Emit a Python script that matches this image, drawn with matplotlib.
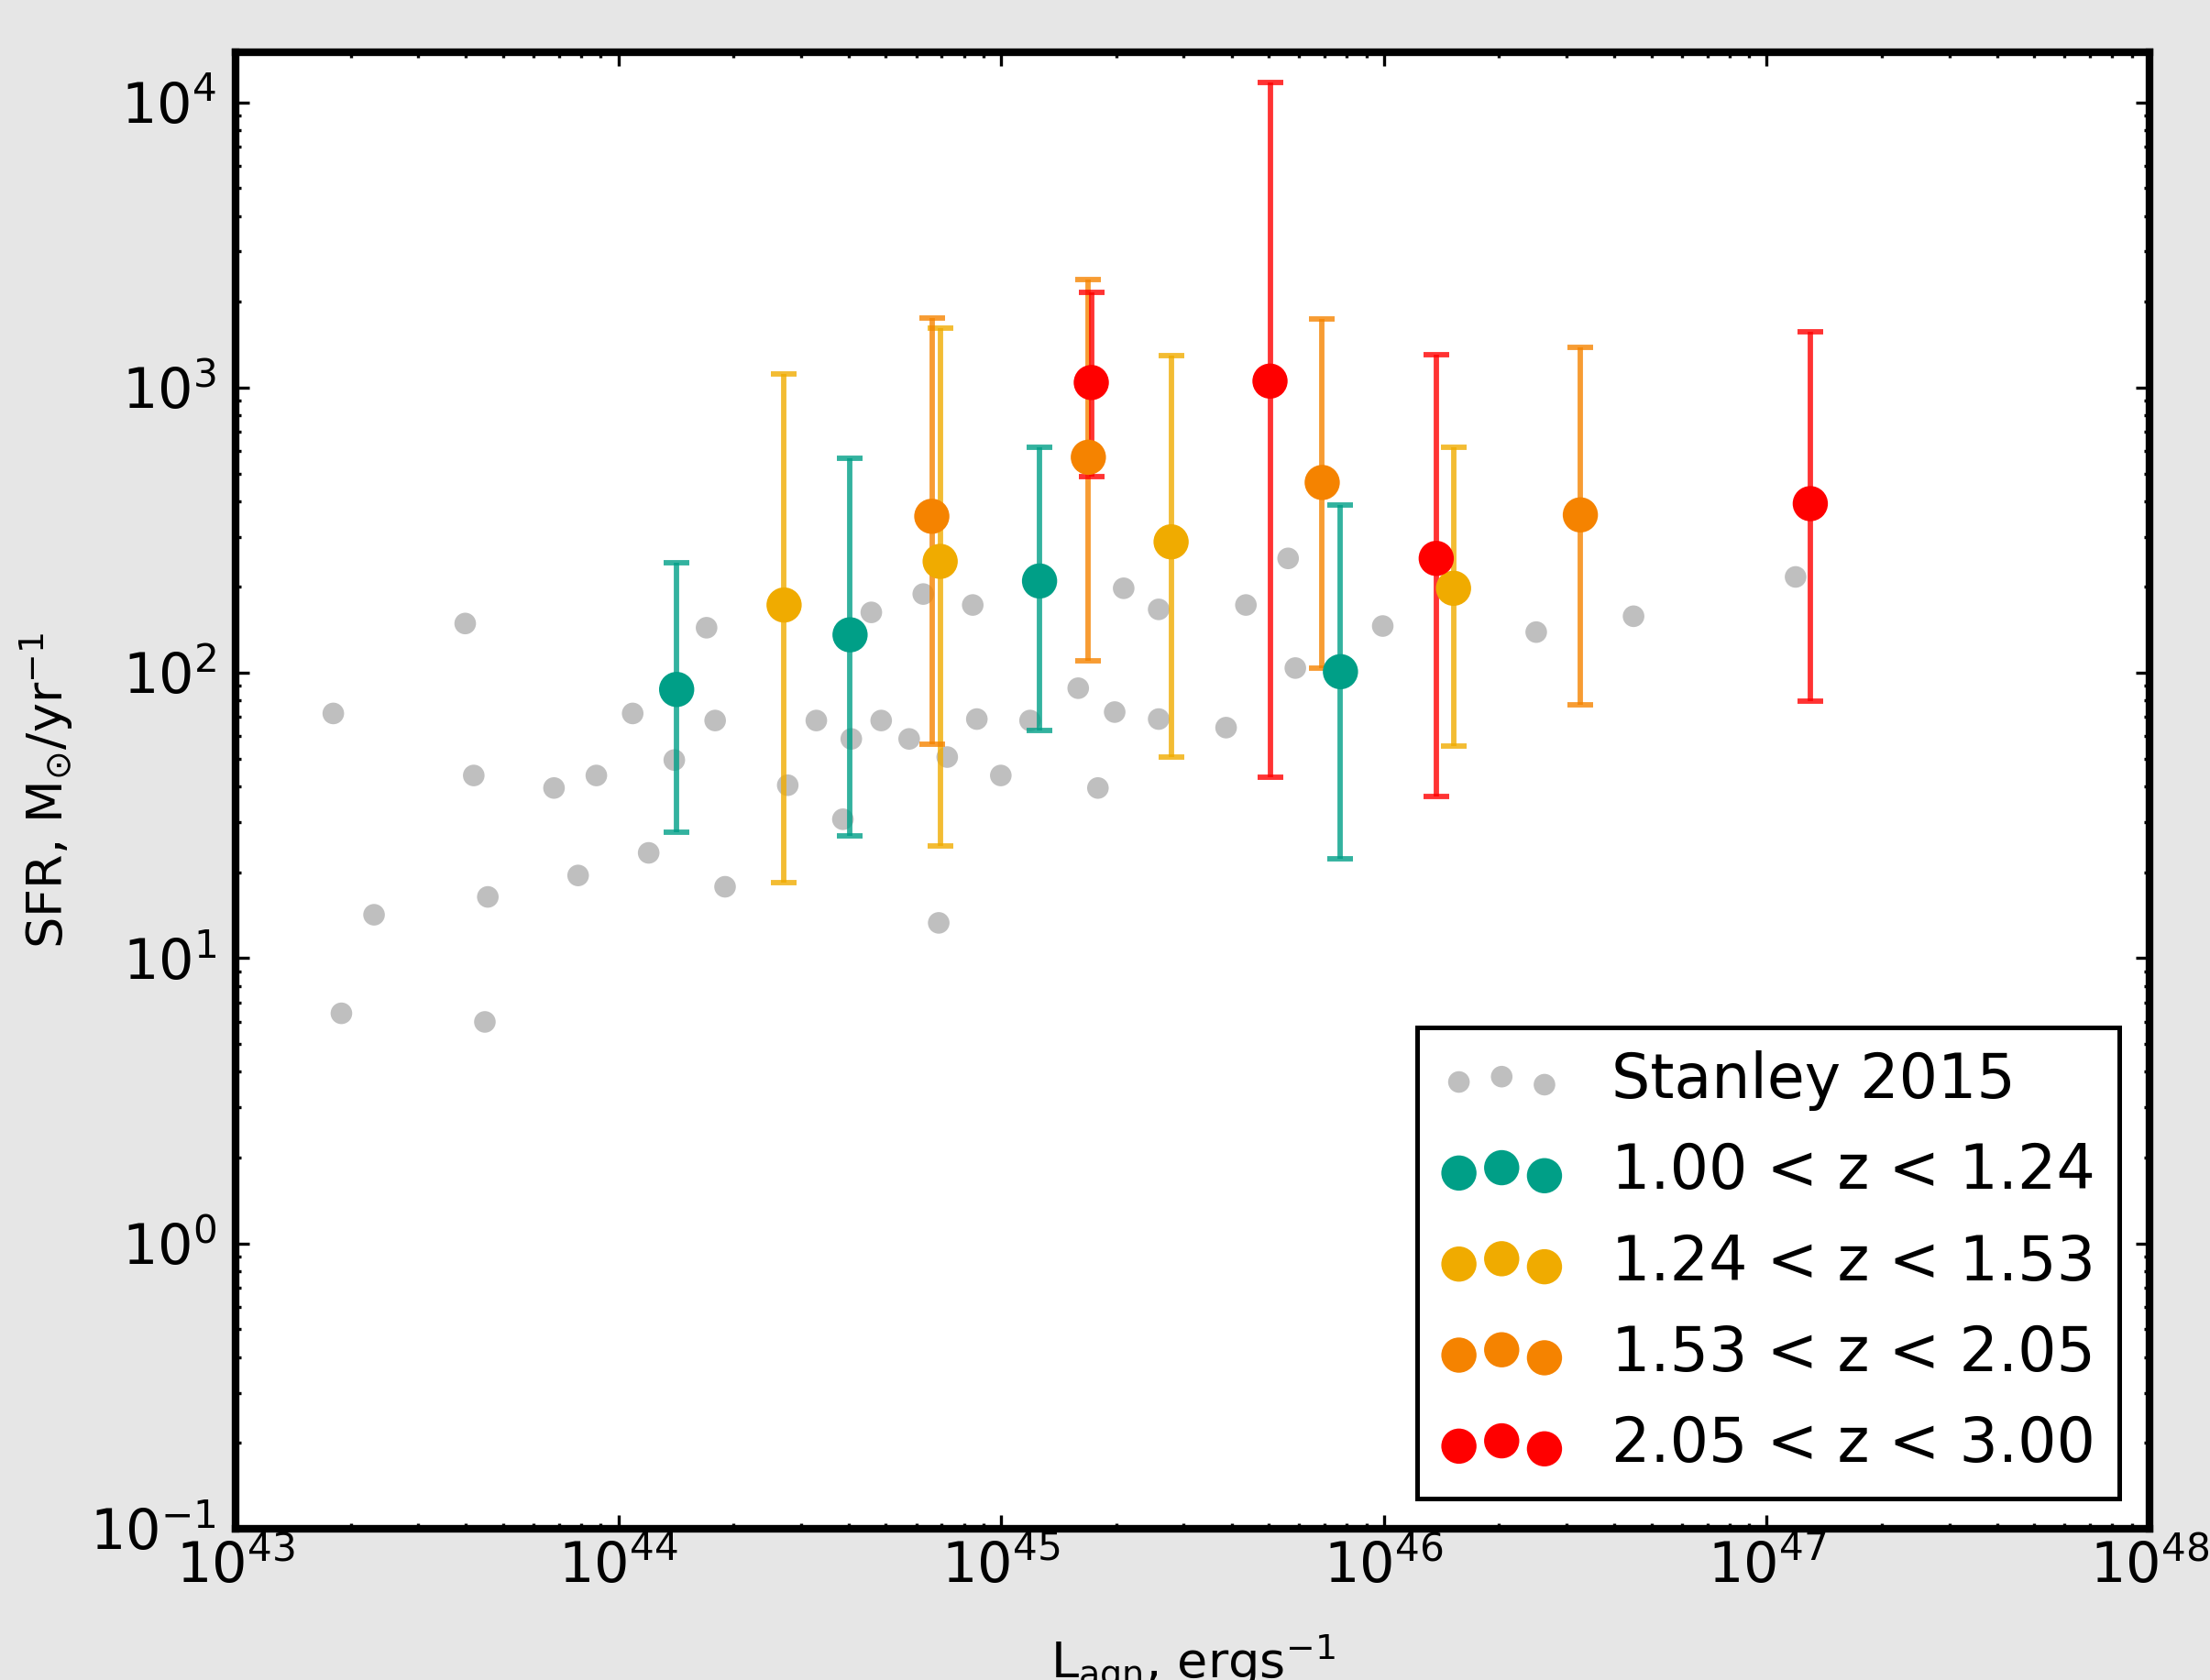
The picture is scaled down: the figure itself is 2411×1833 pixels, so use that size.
import matplotlib
matplotlib.use("Agg")
import matplotlib.pyplot as plt
import numpy as np

# Stanley 2015 comparison sample
stanley_lagn = [1.80e43, 1.89e43, 2.30e43, 3.98e43, 4.19e43, 4.56e43, 4.48e43,
                6.79e43, 7.85e43, 8.76e43, 1.09e44, 1.20e44, 1.40e44, 1.70e44,
                1.79e44, 1.90e44, 2.77e44, 3.29e44, 3.86e44, 4.06e44, 4.58e44,
                4.86e44, 5.75e44, 6.26e44, 6.87e44, 7.23e44, 8.43e44, 8.64e44,
                9.98e44, 1.19e45, 1.59e45, 1.79e45, 1.98e45, 2.09e45, 2.58e45,
                2.58e45, 3.87e45, 4.36e45, 5.62e45, 5.87e45, 9.93e45, 2.50e46,
                4.49e46, 1.19e47]
stanley_sfr = [72.1, 6.41, 14.2, 149, 43.7, 16.4, 5.98,
               39.5, 19.5, 43.7, 72.1, 23.4, 49.5, 144,
               68.1, 17.8, 40.4, 68.1, 30.7, 58.7, 163,
               68.1, 58.7, 189, 13.3, 50.7, 173, 68.9,
               43.7, 68.1, 88.4, 39.5, 72.9, 198, 167,
               68.9, 64.3, 173, 252, 104, 146, 139,
               158, 217]

# redshift bins
labels = ["1.00 < z < 1.24", "1.24 < z < 1.53", "1.53 < z < 2.05", "2.05 < z < 3.00"]
colors = ["#009f87", "#f0ab00", "#f58300", "#ff0000"]

lagn = [
    [1.42e44, 4.03e44, 1.26e45, 7.70e45],
    [2.71e44, 6.93e44, 2.78e45, 1.52e46],
    [6.59e44, 1.69e45, 6.90e45, 3.26e46],
    [1.72e45, 5.04e45, 1.37e46, 1.30e47],
]
sfr = [
    [87.5, 136, 210, 101],
    [173, 246, 288, 198],
    [354, 570, 465, 358],
    [1042, 1054, 252, 392],
]
sfr_lo = [
    [27.7, 26.8, 62.9, 22.3],
    [18.4, 24.8, 50.7, 55.5],
    [56.1, 110, 104, 77.2],
    [487, 43.2, 36.9, 79.8],
]
sfr_hi = [
    [243, 564, 618, 387],
    [1115, 1622, 1293, 618],
    [1758, 2389, 1738, 1385],
    [2157, 11730, 1307, 1568],
]

fig = plt.figure(figsize=(2411 / 300, 1833 / 300), dpi=300, facecolor="#e6e6e6")
ax = fig.add_axes([0.1066, 0.090, 0.866, 0.879])

ax.scatter(stanley_lagn, stanley_sfr, s=32, color="#bfbfbf", edgecolor="none",
           label="Stanley 2015", zorder=1)

for i in range(len(labels)):
    y = np.array(sfr[i])
    yerr = [y - np.array(sfr_lo[i]), np.array(sfr_hi[i]) - y]
    ax.errorbar(lagn[i], y, yerr=yerr, fmt="none", ecolor=colors[i], alpha=0.8,
                elinewidth=1.4, capsize=3.4, capthick=1.4, zorder=2)
    ax.scatter(lagn[i], y, s=85, color=colors[i], edgecolor="none",
               label=labels[i], zorder=3)

ax.set_xscale("log")
ax.set_yscale("log")
ax.set_xlim(1e43, 1e48)
ax.set_ylim(0.1, 1.5e4)

for s in ax.spines.values():
    s.set_linewidth(2)
ax.tick_params(which="both", direction="in", top=True, right=True, width=0.8)
ax.tick_params(which="major", length=3.6, labelsize=14.5)
ax.tick_params(which="minor", length=1.5)
ax.tick_params(axis="x", pad=3)
ax.tick_params(axis="y", pad=5)

ax.set_xlabel(r"L$_{\mathrm{agn}}$, ergs$^{-1}$", fontsize=13, labelpad=10)
ax.set_ylabel(r"SFR, M$_{\odot}$/yr$^{-1}$", fontsize=13, labelpad=4)

leg = ax.legend(loc="lower right", fontsize=16, scatterpoints=3, fancybox=False,
                framealpha=1, edgecolor="black", labelspacing=0.5,
                borderpad=0.38)
leg.get_frame().set_linewidth(1.2)

fig.savefig("out.png", dpi=300, facecolor=fig.get_facecolor())
